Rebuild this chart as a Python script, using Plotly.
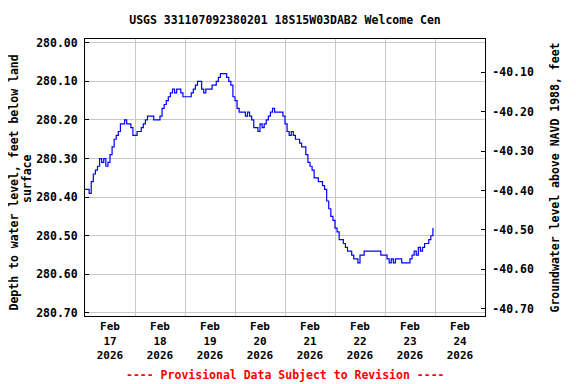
import pandas as pd
import plotly.graph_objects as go

# Hourly depth to water level (feet below land surface), Feb 17 00:00 onward
day17 = [280.38, 280.38, 280.39, 280.36, 280.34, 280.33, 280.32, 280.30, 280.31, 280.30, 280.32, 280.31,
         280.29, 280.27, 280.25, 280.24, 280.23, 280.21, 280.21, 280.20, 280.21, 280.21, 280.22, 280.24]
day18 = [280.24, 280.23, 280.23, 280.22, 280.21, 280.20, 280.19, 280.19, 280.19, 280.20, 280.20, 280.20,
         280.19, 280.17, 280.16, 280.15, 280.14, 280.13, 280.12, 280.13, 280.12, 280.12, 280.13, 280.14]
day19 = [280.14, 280.14, 280.14, 280.13, 280.12, 280.11, 280.10, 280.10, 280.12, 280.13, 280.12, 280.12,
         280.12, 280.11, 280.11, 280.10, 280.09, 280.08, 280.08, 280.08, 280.09, 280.10, 280.11, 280.14]
day20 = [280.15, 280.17, 280.18, 280.18, 280.18, 280.19, 280.18, 280.19, 280.20, 280.22, 280.22, 280.23,
         280.21, 280.22, 280.21, 280.20, 280.19, 280.18, 280.17, 280.18, 280.18, 280.18, 280.18, 280.19]
day21 = [280.21, 280.23, 280.24, 280.23, 280.24, 280.25, 280.25, 280.26, 280.27, 280.27, 280.29, 280.31,
         280.32, 280.33, 280.35, 280.35, 280.36, 280.36, 280.37, 280.38, 280.41, 280.43, 280.45, 280.46]
day22 = [280.48, 280.49, 280.51, 280.51, 280.52, 280.53, 280.54, 280.54, 280.55, 280.56, 280.56, 280.57,
         280.55, 280.55, 280.54, 280.54, 280.54, 280.54, 280.54, 280.54, 280.54, 280.54, 280.55, 280.55]
day23 = [280.55, 280.56, 280.57, 280.56, 280.57, 280.56, 280.56, 280.56, 280.57, 280.57, 280.57, 280.57,
         280.56, 280.55, 280.54, 280.55, 280.53, 280.54, 280.53, 280.52, 280.52, 280.51, 280.50, 280.48]

depth = day17 + day18 + day19 + day20 + day21 + day22 + day23
times = pd.date_range("2026-02-17 00:00", periods=len(depth), freq="h")

left_ticks = [280.00, 280.10, 280.20, 280.30, 280.40, 280.50, 280.60, 280.70]
right_ticks = [-40.10, -40.20, -40.30, -40.40, -40.50, -40.60, -40.70]
right_labels = ["-40.10", "-40.20", "-40.30", "-40.40", "-40.50", "-40.60", "-40.70"]
left_title_lines = ["Depth to water level, feet below land", "surface"]

FONT = "DejaVu Sans Mono"
tick_font = dict(family=FONT, size=11.5, color="black", weight="bold")
label_font = dict(family=FONT, size=11.5, color="black", weight="bold")

# The page body has an 8px default margin, so the figure is sized to fill the rest of the window.
W, H = 568, 376
ML, MR, MT, MB = 77, 91, 31, 68
plot_h = H - MT - MB
plot_w = W - ML - MR

def px_x(px):  # figure pixel x -> paper x
    return (px - ML) / plot_w

def px_y(px):  # figure pixel y -> paper y
    return (MT + plot_h - px) / plot_h

fig = go.Figure()
fig.add_trace(go.Scatter(x=times, y=depth, mode="lines", line=dict(color="#0000ff", width=1.2, shape="hv"),
                         showlegend=False, hoverinfo="skip"))
fig.add_trace(go.Scatter(x=[], y=[], yaxis="y2", showlegend=False))

fig.update_layout(
    width=W, height=H,
    margin=dict(l=ML, r=MR, t=MT, b=MB, autoexpand=False),
    paper_bgcolor="white", plot_bgcolor="white",
    title=dict(text="USGS 331107092380201 18S15W03DAB2 Welcome Cen", x=0.5, xref="paper",
               y=1 - 12 / H, yref="container", yanchor="middle", xanchor="center",
               font=dict(family=FONT, size=11.5, color="black", weight="bold")),
    xaxis=dict(type="date", range=["2026-02-17 00:00", "2026-02-25 00:00"], automargin=False,
               dtick=86400000, tick0="2026-02-17", ticklabelmode="period",
               tickformat="%b<br>%d<br>%Y", ticks="", showgrid=True, gridcolor="#c8c8c8", gridwidth=1,
               showline=True, linecolor="black", linewidth=1, mirror=True,
               tickfont=dict(family=FONT, size=11, color="black", weight="bold"), zeroline=False),
    yaxis=dict(range=[280.7078, 279.9904], tickvals=left_ticks, tickformat=".2f", automargin=False,
               ticks="inside", ticklen=4, tickcolor="black", showgrid=True, gridcolor="#c8c8c8", gridwidth=1,
               showline=True, linecolor="black", linewidth=1, mirror=True, zeroline=False,
               tickfont=tick_font, ticklabelstandoff=4),
    yaxis2=dict(range=[-40.7185, -40.0155], overlaying="y", side="right", anchor="x", automargin=False,
                tickvals=right_ticks, ticktext=right_labels,
                ticks="inside", ticklen=4, tickcolor="black", showgrid=False, zeroline=False,
                showline=True, linecolor="black", linewidth=1,
                tickfont=tick_font, ticklabelstandoff=4,
                title=dict(text="Groundwater level above NAVD 1988, feet", font=label_font, standoff=18)),
    annotations=[
        dict(text=left_title_lines[0], xref="paper", yref="paper", x=px_x(5.5), y=px_y(175),
             xanchor="center", yanchor="middle", textangle=-90, showarrow=False, font=label_font, borderpad=0),
        dict(text=left_title_lines[1], xref="paper", yref="paper", x=px_x(18.5), y=px_y(170.5),
             xanchor="center", yanchor="middle", textangle=-90, showarrow=False, font=label_font, borderpad=0),
        dict(text="---- Provisional Data Subject to Revision ----", xref="paper", yref="paper",
             x=0.5, y=px_y(367), xanchor="center", yanchor="middle",
             showarrow=False, font=dict(family=FONT, size=11.5, color="red", weight="bold")),
    ],
)

fig.write_html("out.html")
